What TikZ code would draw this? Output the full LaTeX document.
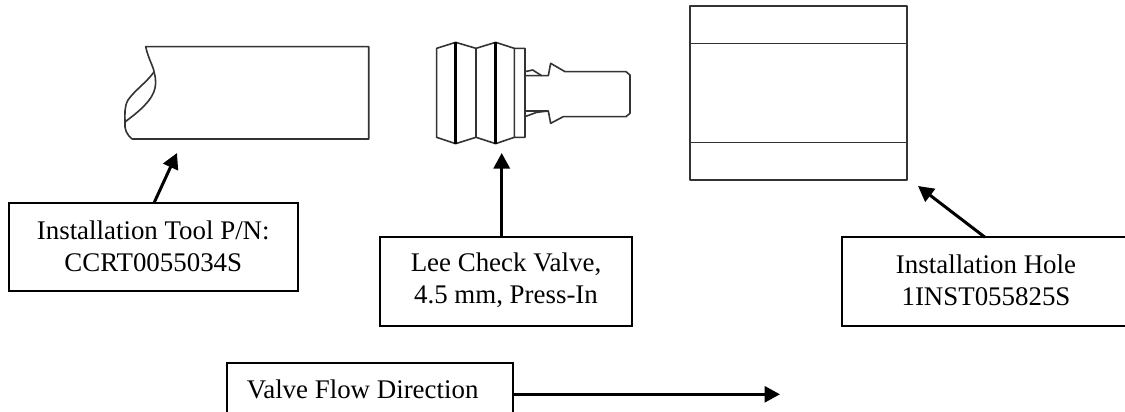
\documentclass[tikz,border=0pt]{standalone}
\usepackage{fontspec}
\setmainfont{Liberation Serif}
\usetikzlibrary{arrows.meta}
\tikzset{
  lbl/.style={draw=black,line width=2pt,fill=white,align=center,inner sep=0pt,anchor=center},
  lbltext/.style={align=center,inner sep=0pt,yshift=1pt,font=\fontsize{26.9}{32}\selectfont},
  conn/.style={draw=black,line width=3pt,-{Triangle[length=15.5pt,width=16pt]}},
  part/.style={draw=black!80,line width=1.6pt,line join=round},
  thick part/.style={draw=black,line width=3pt}
}
\begin{document}
\begin{tikzpicture}[x=1pt,y=-1pt]
\useasboundingbox (0,0) rectangle (1125,412);
% installation tool
\draw[part] (132,139) -- (368.7,139) -- (368.7,46.7) -- (145.7,46.7)
  .. controls (148,58) and (154,68) .. (154,72)
  .. controls (159,88) and (152,98) .. (143,107)
  .. controls (137,113) and (130,118) .. (125,122)
  .. controls (124,129) and (127,135) .. (132,139);
\draw[part] (154,72) .. controls (146,83) and (135,90) .. (128,100)
  .. controls (124,107) and (125,115) .. (125,122);
% valve
\begin{scope}[shift={(420,30)},x=0.3333pt,y=-0.3333pt]
\draw[part] (283,55) -- (315,55) -- (315,322) -- (283,322)
  -- (227,341) -- (168,322) -- (107,341) -- (50,322) -- (50,55)
  -- (107,37) -- (168,55) -- (227,37) -- (283,55) -- (283,322);
\draw[part] (168,55) -- (168,322);
\draw[thick part] (107,37) -- (107,341);
\draw[thick part] (227,37) -- (227,341);
\draw[part] (315,137) -- (385,137) -- (392,100) -- (435,125) -- (618,125)
  -- (630,135) -- (630,250) -- (618,260) -- (430,260) -- (392,280) -- (385,243) -- (315,243);
\draw[part] (315,125) -- (338,120) -- (365,137);
\draw[part] (315,260) -- (350,247) -- (385,243);
\end{scope}
% hole
\draw[part] (690,6) rectangle (906.7,180);
\draw[part] (690,43.7) -- (906.7,43.7);
\draw[part] (690,142.3) -- (906.7,142.3);
% labels
\node[lbl,minimum width=288.5pt,minimum height=88pt,label={[lbltext]center:Installation Tool P/N:\\CCRT0055034S}] (tool) at (153.25,247) {};
\node[lbl,minimum width=252pt,minimum height=88.4pt,label={[lbltext]center:Lee Check Valve,\\4.5 mm, Press-In}] (lee) at (506,281.5) {};
\node[lbl,minimum width=288pt,minimum height=88.4pt,label={[lbltext]center:Installation Hole\\1INST055825S}] (hole) at (986,281.5) {};
\node[lbl,minimum width=285.7pt,minimum height=88pt,label={[lbltext,xshift=-7.5pt,yshift=16pt]center:Valve Flow Direction}] (flow) at (370.15,406.7) {};
% connectors
\coordinate (tooltip) at (177,153);
\coordinate (leetip) at (501.7,153);
\coordinate (holetip) at (918,186);
\coordinate (flowtip) at (780,394.3);
\coordinate (toolstart) at (154,203);
\coordinate (leestart) at (501.7,237.3);
\coordinate (holestart) at (985,237.3);
\draw[conn] (toolstart) -- (tooltip);
\draw[conn] (leestart) -- (leetip);
\draw[conn] (holestart) -- (holetip);
\draw[conn] (flow.east |- flowtip) -- (flowtip);
\end{tikzpicture}
\end{document}
